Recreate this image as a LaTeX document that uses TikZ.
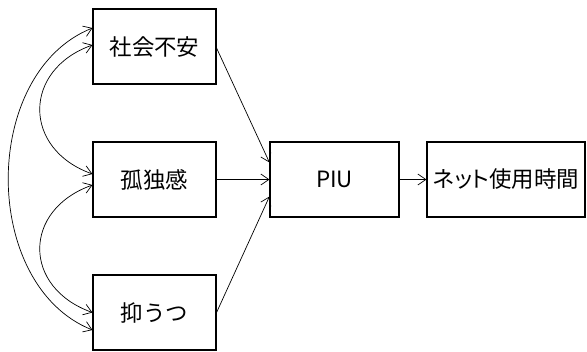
\documentclass[tikz,border=0pt]{standalone}
\usepackage{fontspec}
\setmainfont{Noto Sans CJK JP}
\newfontfamily\jpprop[RawFeature={+palt}]{Noto Sans CJK JP}
\usetikzlibrary{arrows.meta}
\begin{document}
\begin{tikzpicture}[x=1bp,y=-1bp,
  box/.style={draw,line width=1.1bp,minimum height=75bp,inner sep=0pt,font=\fontsize{22.5}{22.5}\selectfont},
  arr/.style={line width=0.7bp,-{Straight Barb[length=8bp,width=11bp]}},
  darr/.style={line width=0.7bp,{Straight Barb[length=8bp,width=11bp]}-{Straight Barb[length=8bp,width=11bp]}}]
\useasboundingbox (0,0) rectangle (587,351);
\node[box,minimum width=123bp] (a) at (154.5,46.5) {社会不安};
\node[box,minimum width=123bp] (b) at (154.5,179.5) {孤独感};
\node[box,minimum width=123bp] (c) at (154.5,312.5) {抑うつ};
\node[box,minimum width=129bp] (p) at (334.5,179.5) {PIU};
\node[box,minimum width=158bp] (n) at (506,179.5) {{\jpprop ネット}使用時間};
\draw[arr] ([yshift=-1.5bp]a.east) -- ([yshift=17bp]p.west);
\draw[arr] (b.east) -- (p.west);
\draw[arr] (c.east) -- ([yshift=-17bp]p.west);
\draw[arr] (p.east) -- (n.west);
\draw[darr] ([yshift=18.5bp]a.west) .. controls +(-112,45) and +(-112,-45) .. ([yshift=-17.5bp]c.west);
\draw[darr] ([yshift=1.5bp]a.west) .. controls +(-70,25) and +(-70,-25) .. ([yshift=5.5bp]b.west);
\draw[darr] ([yshift=-5.5bp]b.west) .. controls +(-70,25) and +(-70,-25) .. (c.west);
\end{tikzpicture}
\end{document}
